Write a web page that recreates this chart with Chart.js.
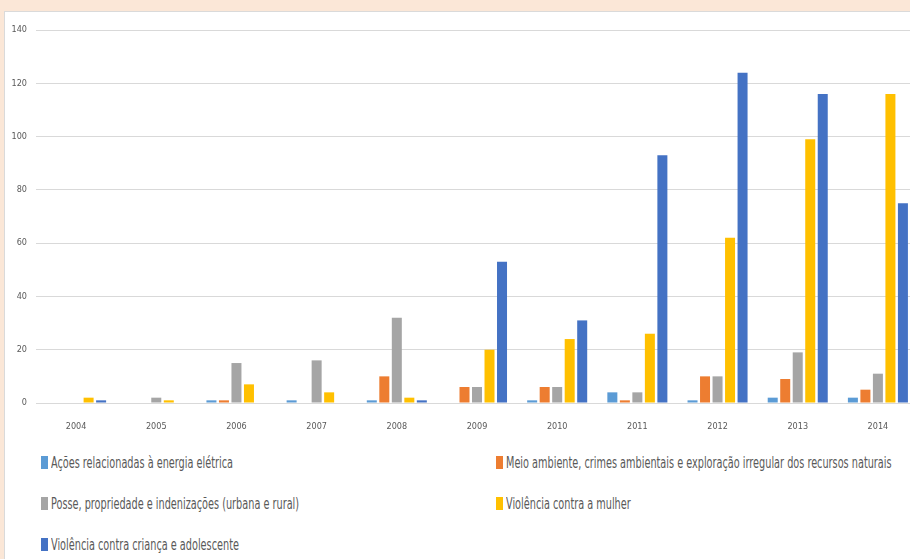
<!DOCTYPE html>
<html>
<head>
<meta charset="utf-8">
<script src="https://cdn.jsdelivr.net/npm/chart.js@4"></script>
<style>
  html, body { margin: 0; padding: 0; }
  body { width: 910px; height: 559px; overflow: hidden; background: #FBE7D7; position: relative; }
  #panel { position: absolute; left: 4px; top: 11px; width: 930px; height: 600px; background: #fff; border: 1px solid #DADADA; }
  #wrap { position: absolute; left: 0; top: 0; width: 925px; height: 440px; }
  #legend { position: absolute; left: 41px; top: 452px; width: 900px; font-family: "DejaVu Sans Condensed", sans-serif; font-size: 15px; color: #595959; }
  .item { position: absolute; height: 22px; line-height: 22px; white-space: nowrap; }
  .box { display: inline-block; width: 7px; height: 13px; vertical-align: -1px; margin-right: 3px; }
  .txt { display: inline-block; transform: scaleX(0.72); transform-origin: left center; }
</style>
</head>
<body>
<div id="panel"></div>
<div id="wrap"><canvas id="chart"></canvas></div>
<div id="legend"></div>
<script>
const years = ["2004", "2005", "2006", "2007", "2008", "2009", "2010", "2011", "2012", "2013", "2014"];

const seriesNames = [
  "Ações relacionadas à energia elétrica",
  "Meio ambiente, crimes ambientais e exploração irregular dos recursos naturais",
  "Posse, propriedade e indenizações (urbana e rural)",
  "Violência contra a mulher",
  "Violência contra criança e adolescente"
];

const energia = [0, 0, 1, 1, 1, 0, 1, 4, 1, 2, 2];
const meioAmbiente = [0, 0, 1, 0, 10, 6, 6, 1, 10, 9, 5];
const posse = [0, 2, 15, 16, 32, 6, 6, 4, 10, 19, 11];
const mulher = [2, 1, 7, 4, 2, 20, 24, 26, 62, 99, 116];
const crianca = [1, 0, 0, 0, 1, 53, 31, 93, 124, 116, 75];

const colors = ["#5B9BD5", "#ED7D31", "#A5A5A5", "#FFC000", "#4472C4"];

const yTicks = [0, 20, 40, 60, 80, 100, 120, 140];

const seriesData = [energia, meioAmbiente, posse, mulher, crianca];

const tickFont = { family: "'DejaVu Sans Condensed', sans-serif", size: 9 };

const chart = new Chart(document.getElementById("chart"), {
  type: "bar",
  data: {
    labels: years,
    datasets: seriesData.map((d, i) => ({
      label: seriesNames[i],
      data: d,
      backgroundColor: colors[i],
      borderWidth: 0,
      categoryPercentage: 0.78,
      barPercentage: 0.8
    }))
  },
  options: {
    responsive: true,
    maintainAspectRatio: false,
    animation: false,
    layout: { padding: { left: 0, top: 30, right: 7, bottom: 0 } },
    plugins: {
      legend: { display: false },
      tooltip: { enabled: false }
    },
    scales: {
      x: {
        grid: { display: false, drawTicks: false },
        border: { display: false },
        ticks: { color: "#595959", font: tickFont, padding: 18, maxRotation: 0 },
        afterFit: (scale) => { scale.height = 37; }
      },
      y: {
        min: 0,
        max: yTicks[yTicks.length - 1],
        afterBuildTicks: (scale) => { scale.ticks = yTicks.map((v) => ({ value: v })); },
        grid: { color: "#D9D9D9", drawTicks: false },
        border: { display: false },
        ticks: { color: "#595959", font: tickFont, padding: 9 },
        afterFit: (scale) => { scale.width = 36; }
      }
    }
  }
});

// legend in two columns like the original
const legendEl = document.getElementById("legend");
chart.data.datasets.forEach((ds, i) => {
  const item = document.createElement("div");
  item.className = "item";
  item.style.left = (i % 2 === 0 ? 0 : 455) + "px";
  item.style.top = Math.floor(i / 2) * 41 + "px";
  const box = document.createElement("span");
  box.className = "box";
  box.style.background = ds.backgroundColor;
  const txt = document.createElement("span");
  txt.className = "txt";
  txt.textContent = ds.label;
  item.appendChild(box);
  item.appendChild(txt);
  legendEl.appendChild(item);
});
</script>
</body>
</html>
